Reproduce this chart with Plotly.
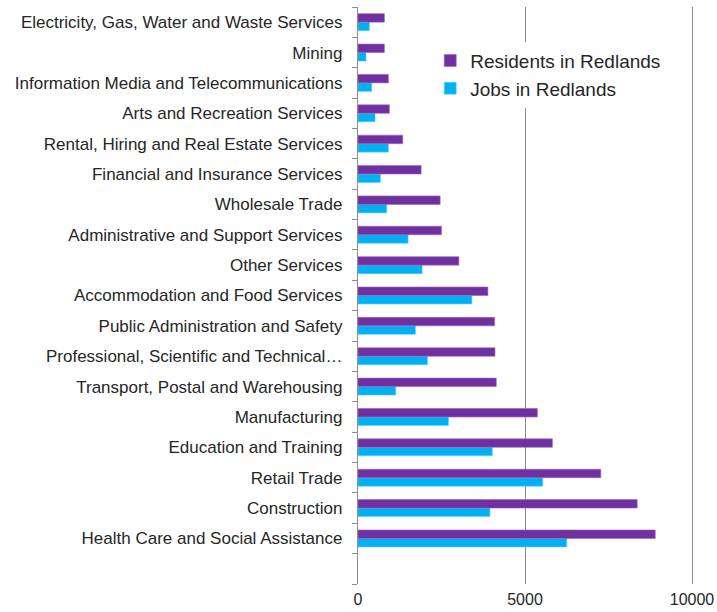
import plotly.graph_objects as go

# Industries, bottom to top (a blank slot sits below the first one)
industries = [
    "Health Care and Social Assistance",
    "Construction",
    "Retail Trade",
    "Education and Training",
    "Manufacturing",
    "Transport, Postal and Warehousing",
    "Professional, Scientific and Technical…",
    "Public Administration and Safety",
    "Accommodation and Food Services",
    "Other Services",
    "Administrative and Support Services",
    "Wholesale Trade",
    "Financial and Insurance Services",
    "Rental, Hiring and Real Estate Services",
    "Arts and Recreation Services",
    "Information Media and Telecommunications",
    "Mining",
    "Electricity, Gas, Water and Waste Services",
]

residents = [8900, 8360, 7270, 5820, 5370, 4140, 4100, 4090, 3890,
             3020, 2500, 2460, 1890, 1340, 940, 910, 790, 790]
jobs = [6250, 3950, 5530, 4020, 2710, 1130, 2080, 1720, 3410,
        1920, 1500, 860, 670, 910, 510, 410, 240, 340]

x_ticks = [0, 5000, 10000]

blank = " "
categories = [blank] + industries

FONT = "Liberation Sans, Arial, Helvetica, sans-serif"
TEXT = "#262626"
AXIS = "#8c8c8c"

fig = go.Figure()
fig.add_trace(go.Bar(
    name="Jobs in Redlands", legendrank=2,
    y=categories, x=[None] + jobs, orientation="h",
    marker=dict(color="#00B0F0", line=dict(color="#5fd0fa", width=0.6)),
))
fig.add_trace(go.Bar(
    name="Residents in Redlands", legendrank=1,
    y=categories, x=[None] + residents, orientation="h",
    marker=dict(color="#7030A0", line=dict(color="#9a66c4", width=0.6)),
))

fig.update_layout(
    width=717, height=612,
    margin=dict(l=358, r=23, t=7, b=28, autoexpand=False),
    paper_bgcolor="white", plot_bgcolor="white",
    barmode="group", bargap=0.44, bargroupgap=0,
    font=dict(family=FONT, color=TEXT, size=17),
    showlegend=True,
    legend=dict(
        x=0.215, y=0.94, xanchor="left", yanchor="top",
        bgcolor="white", traceorder="normal",
        font=dict(family=FONT, size=19, color=TEXT),
    ),
    xaxis=dict(
        range=[0, 10060], tickvals=x_ticks, ticktext=[str(v) for v in x_ticks],
        showgrid=True, gridcolor=AXIS, gridwidth=1.4,
        zeroline=False, showline=False, ticks="",
        ticklabelstandoff=4, tickfont=dict(size=16), automargin=False,
    ),
    yaxis=dict(
        type="category", categoryorder="array", categoryarray=categories,
        range=[-0.5, len(categories) - 0.5],
        tickson="boundaries", ticks="outside", ticklen=5,
        tickcolor=AXIS, tickwidth=1.2,
        showline=True, linecolor=AXIS, linewidth=1.4,
        showgrid=False, zeroline=False, automargin=False,
        ticklabelstandoff=11, tickfont=dict(size=17),
    ),
)

fig.write_html("out.html")
